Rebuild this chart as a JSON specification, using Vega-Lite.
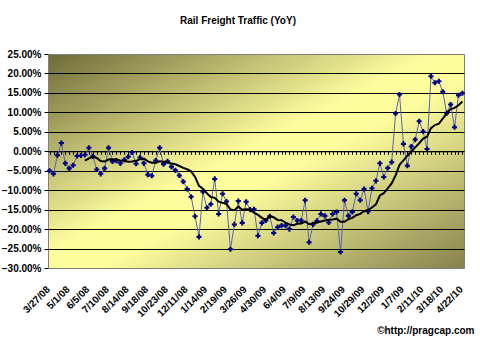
{
  "$schema": "https://vega.github.io/schema/vega-lite/v6.json",
  "width": 416,
  "height": 214,
  "autosize": {"type": "none"},
  "padding": {"left": 48, "top": 54, "right": 16, "bottom": 74},
  "background": "white",
  "config": {
    "font": "Liberation Sans",
    "view": {
      "fill": {"gradient": "linear", "x1": 0, "y1": 0, "x2": 1, "y2": 1,
        "stops": [
          {"offset": 0, "color": "#6e6a38"},
          {"offset": 0.46, "color": "#fdfd9e"},
          {"offset": 0.56, "color": "#fdfd9e"},
          {"offset": 1, "color": "#85814c"}
        ]},
      "stroke": "#808080",
      "strokeWidth": 1
    },
    "axisY": {
      "values": [-30,-25,-20,-15,-10,-5,0,5,10,15,20,25],
      "labelExpr": "format(datum.value, '.2f') + '%'",
      "labelFontSize": 10,
      "labelFontWeight": "bold",
      "labelColor": "black",
      "labelPadding": 3,
      "labelOverlap": false,
      "labelFlush": false,
      "tickColor": "black",
      "tickSize": 4,
      "domain": false,
      "grid": true,
      "gridColor": "black",
      "gridWidth": 1,
      "title": null
    }
  },
  "title": {
    "text": "Rail Freight Traffic (YoY)",
    "fontSize": 10,
    "fontWeight": "bold",
    "color": "black",
    "font": "Liberation Sans",
    "frame": "group",
    "anchor": "middle",
    "baseline": "alphabetic",
    "offset": 15,
    "dx": -18
  },
  "data": {"values": [
    {"week":"3/27/08","yoy":-5.0},
    {"week":"4/3/08","yoy":-5.8},
    {"week":"4/10/08","yoy":-1.0},
    {"week":"4/17/08","yoy":2.1},
    {"week":"4/24/08","yoy":-3.1},
    {"week":"5/1/08","yoy":-4.4},
    {"week":"5/8/08","yoy":-3.6},
    {"week":"5/15/08","yoy":-1.2},
    {"week":"5/22/08","yoy":-1.1},
    {"week":"5/29/08","yoy":-0.9,"ma":-2.4},
    {"week":"6/5/08","yoy":0.9,"ma":-1.81},
    {"week":"6/12/08","yoy":-1.3,"ma":-1.36},
    {"week":"6/19/08","yoy":-4.7,"ma":-1.73},
    {"week":"6/26/08","yoy":-5.8,"ma":-2.52},
    {"week":"7/3/08","yoy":-4.4,"ma":-2.65},
    {"week":"7/10/08","yoy":0.9,"ma":-2.12},
    {"week":"7/17/08","yoy":-2.6,"ma":-2.02},
    {"week":"7/24/08","yoy":-2.4,"ma":-2.14},
    {"week":"7/31/08","yoy":-3.1,"ma":-2.34},
    {"week":"8/7/08","yoy":-2.2,"ma":-2.47},
    {"week":"8/14/08","yoy":-1.4,"ma":-2.7},
    {"week":"8/21/08","yoy":-0.3,"ma":-2.6},
    {"week":"8/28/08","yoy":-3.2,"ma":-2.45},
    {"week":"9/4/08","yoy":-1.6,"ma":-2.03},
    {"week":"9/11/08","yoy":-3.1,"ma":-1.9},
    {"week":"9/18/08","yoy":-6.0,"ma":-2.59},
    {"week":"9/25/08","yoy":-6.3,"ma":-2.96},
    {"week":"10/2/08","yoy":-2.4,"ma":-2.96},
    {"week":"10/9/08","yoy":0.9,"ma":-2.56},
    {"week":"10/16/08","yoy":-3.3,"ma":-2.67},
    {"week":"10/23/08","yoy":-2.6,"ma":-2.79},
    {"week":"10/30/08","yoy":-4.0,"ma":-3.16},
    {"week":"11/6/08","yoy":-4.9,"ma":-3.33},
    {"week":"11/13/08","yoy":-6.2,"ma":-3.79},
    {"week":"11/20/08","yoy":-7.8,"ma":-4.26},
    {"week":"12/11/08","yoy":-9.7,"ma":-4.63},
    {"week":"12/18/08","yoy":-11.7,"ma":-5.17},
    {"week":"12/25/08","yoy":-16.7,"ma":-6.6},
    {"week":"1/1/09","yoy":-22.0,"ma":-8.89},
    {"week":"1/8/09","yoy":-10.4,"ma":-9.6},
    {"week":"1/14/09","yoy":-14.5,"ma":-10.79},
    {"week":"1/22/09","yoy":-13.6,"ma":-11.75},
    {"week":"1/29/09","yoy":-7.1,"ma":-11.97},
    {"week":"2/5/09","yoy":-16.1,"ma":-12.96},
    {"week":"2/12/09","yoy":-10.9,"ma":-13.27},
    {"week":"2/19/09","yoy":-12.9,"ma":-13.59},
    {"week":"2/26/09","yoy":-25.2,"ma":-14.94},
    {"week":"3/5/09","yoy":-18.8,"ma":-15.15},
    {"week":"3/12/09","yoy":-12.8,"ma":-14.23},
    {"week":"3/19/09","yoy":-18.4,"ma":-15.03},
    {"week":"3/26/09","yoy":-13.0,"ma":-14.88},
    {"week":"4/2/09","yoy":-15.0,"ma":-15.02},
    {"week":"4/9/09","yoy":-14.9,"ma":-15.8},
    {"week":"4/16/09","yoy":-21.7,"ma":-16.36},
    {"week":"4/23/09","yoy":-18.4,"ma":-17.11},
    {"week":"4/30/09","yoy":-17.8,"ma":-17.6},
    {"week":"5/7/09","yoy":-16.7,"ma":-16.75},
    {"week":"5/14/09","yoy":-21.0,"ma":-16.97},
    {"week":"5/21/09","yoy":-19.5,"ma":-17.64},
    {"week":"5/28/09","yoy":-19.1,"ma":-17.71},
    {"week":"6/4/09","yoy":-19.1,"ma":-18.32},
    {"week":"6/11/09","yoy":-20.0,"ma":-18.82},
    {"week":"6/18/09","yoy":-16.9,"ma":-19.02},
    {"week":"6/25/09","yoy":-17.8,"ma":-18.63},
    {"week":"7/2/09","yoy":-17.8,"ma":-18.57},
    {"week":"7/9/09","yoy":-12.6,"ma":-18.05},
    {"week":"7/16/09","yoy":-23.4,"ma":-18.72},
    {"week":"7/23/09","yoy":-18.8,"ma":-18.5},
    {"week":"7/30/09","yoy":-17.9,"ma":-18.34},
    {"week":"8/6/09","yoy":-16.1,"ma":-18.04},
    {"week":"8/13/09","yoy":-16.6,"ma":-17.79},
    {"week":"8/20/09","yoy":-18.3,"ma":-17.62},
    {"week":"8/27/09","yoy":-16.1,"ma":-17.54},
    {"week":"9/3/09","yoy":-15.6,"ma":-17.32},
    {"week":"9/17/09","yoy":-25.9,"ma":-18.13},
    {"week":"9/24/09","yoy":-12.6,"ma":-18.13},
    {"week":"10/1/09","yoy":-16.6,"ma":-17.45},
    {"week":"10/8/09","yoy":-15.6,"ma":-17.13},
    {"week":"10/15/09","yoy":-10.9,"ma":-16.43},
    {"week":"10/22/09","yoy":-12.6,"ma":-16.08},
    {"week":"10/29/09","yoy":-9.7,"ma":-15.39},
    {"week":"11/5/09","yoy":-15.5,"ma":-15.11},
    {"week":"11/12/09","yoy":-9.5,"ma":-14.45},
    {"week":"11/19/09","yoy":-7.6,"ma":-13.65},
    {"week":"11/26/09","yoy":-3.1,"ma":-11.37},
    {"week":"12/2/09","yoy":-6.6,"ma":-10.77},
    {"week":"12/9/09","yoy":-4.3,"ma":-9.54},
    {"week":"12/16/09","yoy":-2.8,"ma":-8.26},
    {"week":"12/23/09","yoy":9.7,"ma":-6.2},
    {"week":"12/30/09","yoy":14.6,"ma":-3.48},
    {"week":"1/7/09","yoy":1.9,"ma":-2.32},
    {"week":"1/14/10","yoy":-3.7,"ma":-1.14},
    {"week":"1/21/10","yoy":1.2,"ma":-0.07},
    {"week":"1/28/10","yoy":3.0,"ma":0.99},
    {"week":"2/4/10","yoy":7.7,"ma":2.07},
    {"week":"2/11/10","yoy":5.1,"ma":3.24},
    {"week":"2/18/10","yoy":0.6,"ma":3.73},
    {"week":"2/25/10","yoy":19.3,"ma":5.94},
    {"week":"3/4/10","yoy":17.6,"ma":6.73},
    {"week":"3/11/10","yoy":18.0,"ma":7.07},
    {"week":"3/18/10","yoy":15.3,"ma":8.41},
    {"week":"3/25/10","yoy":9.8,"ma":9.76},
    {"week":"4/1/10","yoy":12.0,"ma":10.84},
    {"week":"4/8/10","yoy":6.2,"ma":11.16},
    {"week":"4/15/10","yoy":14.4,"ma":11.83},
    {"week":"4/22/10","yoy":14.9,"ma":12.81}
  ]},
  "layer": [
    {
      "mark": {"type": "line", "color": "#5b64a8", "strokeWidth": 1},
      "encoding": {
        "x": {
          "field": "week", "type": "ordinal", "sort": null,
          "scale": {"type": "point", "padding": 0.4},
          "axis": {
            "values": ["3/27/08","5/1/08","6/5/08","7/10/08","8/14/08","9/18/08","10/23/08","12/11/08","1/14/09","2/19/09","3/26/09","4/30/09","6/4/09","7/9/09","8/13/09","9/24/09","10/29/09","12/2/09","1/7/09","2/11/10","3/18/10","4/22/10"],
            "labelAngle": -45,
            "labelAlign": "right",
            "labelBaseline": "top",
            "labelPadding": 16,
            "labelOffset": -5,
            "labelFontSize": 10,
            "labelFontWeight": "bold",
            "labelColor": "black",
            "labelOverlap": false,
            "ticks": false,
            "domain": false,
            "grid": false,
            "title": "©http://pragcap.com",
            "titleFontSize": 10,
            "titleFontWeight": "bold",
            "titleColor": "black",
            "titleAlign": "right",
            "titleAnchor": "end",
            "titleBaseline": "alphabetic",
            "titleX": 426,
            "titleY": 65
          }
        },
        "y": {
          "field": "yoy", "type": "quantitative",
          "scale": {"domain": [-30, 25], "nice": false, "zero": false},
          "axis": {
            "values": [-30,-25,-20,-15,-10,-5,0,5,10,15,20,25],
            "labelOverlap": false,
            "gridOpacity": {"condition": {"test": "datum.value === 25 || datum.value === -30", "value": 0}, "value": 1}
          }
        }
      }
    },
    {
      "mark": {"type": "point", "shape": "cross", "filled": true, "color": "#000080", "size": 26, "opacity": 1},
      "encoding": {
        "x": {"field": "week", "type": "ordinal", "sort": null, "axis": null},
        "y": {"field": "yoy", "type": "quantitative",
          "axis": {
            "values": [-30,-25,-20,-15,-10,-5,0,5,10,15,20,25],
            "labelOverlap": false,
            "gridOpacity": {"condition": {"test": "datum.value === 25 || datum.value === -30", "value": 0}, "value": 1}
          }}
      }
    },
    {
      "mark": {"type": "line", "color": "black", "strokeWidth": 2},
      "encoding": {
        "x": {
          "field": "week", "type": "ordinal", "sort": null,
          "axis": {
            "orient": "bottom",
            "offset": -116.73,
            "labels": false,
            "title": null,
            "grid": false,
            "domain": true,
            "domainColor": "black",
            "domainWidth": 1,
            "ticks": true,
            "tickColor": "black",
            "tickSize": 3,
            "tickWidth": 1
          }
        },
        "y": {"field": "ma", "type": "quantitative",
          "axis": {
            "values": [-30,-25,-20,-15,-10,-5,0,5,10,15,20,25],
            "labelOverlap": false,
            "gridOpacity": {"condition": {"test": "datum.value === 25 || datum.value === -30", "value": 0}, "value": 1}
          }}
      }
    }
  ],
  "resolve": {"axis": {"x": "independent"}}
}
